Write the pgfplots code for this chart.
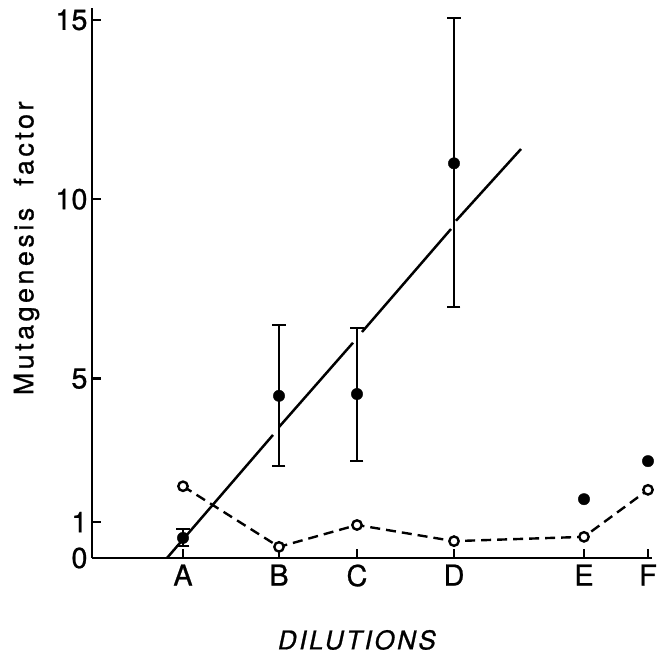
\documentclass[border=0pt]{standalone}
\usepackage{fontspec}
\setmainfont{TeX Gyre Heros}[FakeBold=0.8]
\usepackage{pgfplots}
\usepackage{pgfplotstable}
\pgfplotsset{compat=1.18}

% treated cultures: mean mutagenesis factor with lower/upper spread
\pgfplotstableread{
x     y     ep    em
1.83  0.56  0.25  0.23
2.79  4.52  1.98  1.96
3.57  4.57  1.84  1.87
4.54  11.00 4.05  4.00
}\treated
% single values without spread
\pgfplotstableread{
x     y
5.84  1.64
6.48  2.70
}\treatedsingle
% controls
\pgfplotstableread{
x     y
1.83  2.00
2.79  0.31
3.57  0.92
4.54  0.47
5.84  0.59
6.48  1.90
}\control

\begin{document}
\begin{tikzpicture}[x=1bp,y=1bp]
\useasboundingbox (-92bp,-98bp) rectangle (576bp,558bp);
\begin{axis}[
  at={(0,0)}, anchor=south west,
  scale only axis, width=560bp, height=550bp,
  xmin=0.92, xmax=6.52, ymin=0, ymax=15.33,
  axis lines*=left,
  axis line style={line width=2.7pt},
  xtick={1.83,2.79,3.57,4.54,5.84,6.48},
  xticklabels={A,B,C,D,E,F},
  ytick={0,1,5,10,15},
  tick align=inside,
  major tick length=9bp,
  every tick/.style={line width=2.4pt,black},
  /pgf/number format/assume math mode=true,
  tick label style={font=\fontsize{29}{29}\selectfont},
  xticklabel style={yshift=-3bp},
  yticklabel style={xshift=-1bp},
  xlabel={\addfontfeatures{LetterSpace=10}\itshape DILUTIONS},
  ylabel={\addfontfeatures{LetterSpace=13}Mutagenesis\ \ factor},
  every axis x label/.style={at={(axis description cs:0.473,-0.149)},anchor=center,font=\fontsize{26}{26}\selectfont},
  every axis y label/.style={at={(axis description cs:-0.117,0.563)},rotate=90,anchor=center,font=\fontsize{27}{27}\selectfont},
  clip=false,
]
% fitted line, interrupted where it crosses the error bars
\addplot[line width=2.5pt, black] coordinates {(1.67,0) (2.73,3.43)};
\addplot[line width=2.5pt, black] coordinates {(2.79,3.65) (3.53,6.00)};
\addplot[line width=2.5pt, black] coordinates {(3.62,6.30) (4.51,9.17)};
\addplot[line width=2.5pt, black] coordinates {(4.56,9.40) (5.21,11.40)};
% controls
\addplot[line width=2.4pt, black, dash pattern=on 10bp off 6bp,
  mark=*, mark size=4.7bp, mark options={solid, fill=white, line width=2.4pt}]
  table[x=x,y=y] {\control};
% treated with error bars
\addplot[only marks, mark=*, mark size=5.7bp, black,
  error bars/.cd, y dir=both, y explicit,
  error bar style={line width=2.5pt},
  error mark options={rotate=90, mark size=6.5bp, line width=2.5pt}]
  table[x=x, y=y, y error plus=ep, y error minus=em] {\treated};
\addplot[only marks, mark=*, mark size=5.7bp, black] table[x=x,y=y] {\treatedsingle};
\end{axis}
\end{tikzpicture}
\end{document}
